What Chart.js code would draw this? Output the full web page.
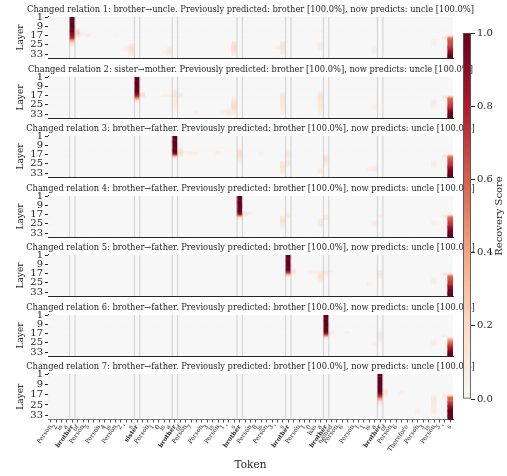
<!DOCTYPE html>
<html><head><meta charset="utf-8">
<script src="https://cdn.jsdelivr.net/npm/chart.js@4.4.0/dist/chart.umd.min.js"></script>
<style>
html,body{margin:0;padding:0;background:#fff;}
#wrap{position:relative;width:507px;height:476px;overflow:hidden;background:#fff;}
canvas{position:absolute;left:0;}
</style></head><body><div id="wrap"></div>
<script>
const tokens = [
 'Person','2','is','a','brother','of','Person','5','.',
 'Person','4','is','Person','2',"'",'s','sister','.',
 'Person','1','0','is','a','brother','of','Person','7','.',
 'Person','3','is','Person','1',"'",'s','brother','.',
 'Person','8','is','Person','3',"'",'s','brother','.',
 'Person','1','0','has','a','brother','named','Person','6','.',
 'Person','1','1','is','a','brother','of','Person','6','.',
 'Therefore',',','Person','3','is','Person','5',"'",'s'
];
const relationTokens = [4,16,23,35,44,51,61];
const layerTickLabels = [1,9,17,25,33];
const nLayers = 36;
const colorbarTicks = [0,0.2,0.4,0.6,0.8,1.0];
const cmapStops = ['#f7f7f7','#fddbc7','#f4a582','#d6604d','#b2182b','#67001f'];
const titles = [
 'Changed relation 1: brother\u2192uncle. Previously predicted: brother [100.0%], now predicts: uncle [100.0%]',
 'Changed relation 2: sister\u2192mother. Previously predicted: brother [100.0%], now predicts: uncle [100.0%]',
 'Changed relation 3: brother\u2192father. Previously predicted: brother [100.0%], now predicts: uncle [100.0%]',
 'Changed relation 4: brother\u2192father. Previously predicted: brother [100.0%], now predicts: uncle [100.0%]',
 'Changed relation 5: brother\u2192father. Previously predicted: brother [100.0%], now predicts: uncle [100.0%]',
 'Changed relation 6: brother\u2192father. Previously predicted: brother [100.0%], now predicts: uncle [100.0%]',
 'Changed relation 7: brother\u2192father. Previously predicted: brother [100.0%], now predicts: uncle [100.0%]'
];
// [token index, first layer, recovery scores for consecutive layers]
const panel1 = [
 [4, 1, [1,1,1,1,1,1,1,1,1,1,1,1,1,0.92,0.9,0.88,0.85,0.8,0.7,0.55,0.4,0.3,0.2,0.12,0.08,0.05]],
 [5, 11, [0.12,0.18,0.22,0.25,0.22,0.18,0.12,0.06]],
 [6, 14, [0.05,0.06,0.05]],
 [7, 15, [0.06,0.08,0.08,0.06]],
 [12, 16, [0.05]],
 [14, 27, [0.05,0.05,0.06,0.05]],
 [15, 24, [0.08,0.12,0.15,0.18,0.18,0.18,0.15,0.15,0.12,0.1,0.08]],
 [21, 30, [0.04,0.05,0.05]],
 [22, 27, [0.06,0.08,0.1,0.12,0.12,0.1,0.08,0.06]],
 [34, 22, [0.08,0.12,0.15,0.18,0.2,0.2,0.2,0.18,0.16,0.14,0.12,0.1,0.08]],
 [42, 26, [0.05,0.05,0.06]],
 [43, 22, [0.08,0.1,0.12,0.15,0.15,0.15,0.15,0.12,0.12,0.1,0.08,0.06]],
 [50, 13, [0.05]],
 [50, 22, [0.05,0.06,0.08,0.08,0.08,0.06,0.06,0.05]],
 [60, 27, [0.05,0.06,0.07,0.07,0.06,0.05]],
 [71, 20, [0.04,0.05,0.06,0.06,0.05,0.04]],
 [73, 17, [0.08,0.12,0.1]],
 [74, 16, [0.08,0.2,0.45,0.55,0.6,0.62,0.63,0.64,0.65,0.68,0.7,0.72,0.75,0.8,0.85,0.9,0.95,1,1,1,1]]
];
const panel2 = [
 [16, 1, [1,1,1,1,1,1,1,1,1,1,1,1,1,0.95,0.9,0.85,0.75,0.6,0.45,0.3,0.15,0.08]],
 [17, 14, [0.1,0.18,0.2,0.15,0.08]],
 [21, 16, [0.05,0.05]],
 [22, 16, [0.06,0.06]],
 [23, 10, [0.05,0.06,0.08,0.1,0.12,0.12,0.12,0.12,0.1,0.1,0.1,0.08,0.08,0.08,0.08,0.06,0.06,0.06,0.05,0.05,0.05]],
 [24, 14, [0.06,0.1,0.1,0.08,0.05]],
 [27, 30, [0.05,0.06,0.06,0.05]],
 [32, 29, [0.05,0.06,0.08,0.08,0.06]],
 [33, 28, [0.06,0.08,0.1,0.1,0.1,0.08,0.06]],
 [34, 18, [0.06,0.08,0.1,0.12,0.15,0.15,0.18,0.2,0.2,0.2,0.18,0.15,0.12,0.1,0.08,0.06]],
 [43, 14, [0.06,0.08,0.1,0.12,0.12,0.12,0.12,0.12,0.12,0.1,0.1,0.1,0.1,0.1,0.08,0.08,0.08,0.06,0.06,0.05]],
 [50, 13, [0.06,0.08,0.1,0.12,0.15,0.15,0.15,0.15,0.12,0.12,0.12,0.1,0.1,0.1,0.1,0.08,0.08,0.08,0.06,0.06,0.06,0.05]],
 [60, 24, [0.04,0.05,0.05,0.05,0.04]],
 [71, 20, [0.05,0.06,0.08,0.08,0.08,0.06,0.06,0.05]],
 [73, 17, [0.08,0.12,0.1]],
 [74, 17, [0.2,0.45,0.55,0.6,0.6,0.62,0.65,0.68,0.7,0.72,0.75,0.8,0.85,0.9,0.95,1,1,1,1,1]]
];
const panel3 = [
 [23, 1, [1,1,1,1,1,1,1,1,1,1,1,1,1,1,0.95,0.85,0.6,0.35,0.15,0.06]],
 [24, 11, [0.08,0.12,0.15,0.18,0.18,0.15,0.1,0.06]],
 [25, 14, [0.05,0.06,0.05]],
 [26, 14, [0.05,0.08,0.06]],
 [27, 15, [0.08,0.06]],
 [31, 14, [0.06,0.08,0.06]],
 [35, 12, [0.08,0.12,0.15,0.18,0.2,0.18,0.15,0.12,0.1,0.08,0.08,0.06,0.05]],
 [39, 15, [0.05,0.06]],
 [43, 23, [0.08,0.1,0.12,0.15,0.15,0.15,0.12,0.12,0.1,0.08,0.06]],
 [44, 13, [0.05,0.08,0.1,0.1,0.12,0.1,0.08,0.06,0.06,0.08,0.1,0.1,0.1,0.08,0.06]],
 [50, 29, [0.06,0.08,0.08,0.08,0.06]],
 [51, 17, [0.08,0.12,0.15,0.18,0.18,0.15,0.12,0.1,0.08,0.06]],
 [59, 28, [0.05,0.06,0.06,0.05]],
 [60, 27, [0.05,0.06,0.08,0.08,0.06]],
 [71, 22, [0.05,0.06,0.08,0.08,0.08,0.06,0.05]],
 [73, 17, [0.1,0.12,0.08]],
 [74, 17, [0.25,0.5,0.55,0.6,0.62,0.65,0.68,0.7,0.72,0.75,0.8,0.85,0.9,0.92,0.95,1,1,1,1,1]]
];
const panel4 = [
 [35, 1, [1,1,1,1,1,1,1,1,1,1,1,1,1,1,0.95,0.85,0.65,0.4,0.2,0.08]],
 [36, 14, [0.1,0.15,0.15,0.1,0.06]],
 [37, 15, [0.05,0.05]],
 [43, 18, [0.08,0.1,0.12,0.15,0.15,0.15,0.12,0.1,0.1,0.08,0.06,0.05]],
 [44, 15, [0.05,0.06,0.08,0.08,0.06]],
 [50, 20, [0.06,0.08,0.1,0.12,0.12,0.1,0.08,0.06]],
 [51, 17, [0.06,0.08,0.1,0.1,0.08]],
 [60, 22, [0.05,0.06,0.08,0.08,0.06,0.05]],
 [61, 17, [0.05,0.06,0.06]],
 [71, 22, [0.05,0.06,0.06,0.05]],
 [73, 17, [0.08,0.1,0.06]],
 [74, 17, [0.2,0.45,0.55,0.6,0.62,0.65,0.68,0.7,0.72,0.75,0.8,0.85,0.9,0.92,0.95,1,1,1,1,1]]
];
const panel5 = [
 [44, 1, [1,1,1,1,1,1,1,1,1,1,1,1,1,0.9,0.8,0.65,0.45,0.25,0.1]],
 [45, 13, [0.08,0.12,0.12,0.08,0.05]],
 [48, 14, [0.05,0.06,0.05]],
 [49, 14, [0.05,0.08,0.05]],
 [50, 14, [0.06,0.1,0.12,0.15,0.18,0.18,0.15,0.12,0.1,0.08,0.06]],
 [51, 14, [0.06,0.1,0.1,0.08]],
 [52, 14, [0.05,0.06]],
 [59, 24, [0.05,0.06,0.06,0.05]],
 [61, 14, [0.06,0.08,0.1,0.1,0.1,0.08,0.06,0.05]],
 [71, 20, [0.05,0.06,0.08,0.08,0.08,0.06,0.05]],
 [73, 16, [0.1,0.12,0.1]],
 [74, 17, [0.2,0.45,0.55,0.6,0.62,0.65,0.68,0.7,0.72,0.75,0.8,0.85,0.9,0.92,0.95,1,1,1,1,1]]
];
const panel6 = [
 [51, 1, [1,1,1,1,1,1,1,1,1,1,1,1,1,1,0.95,0.9,0.75,0.55,0.35,0.2,0.1]],
 [52, 14, [0.06,0.1,0.1,0.06]],
 [55, 15, [0.05,0.05]],
 [60, 24, [0.05,0.06,0.06,0.05]],
 [61, 15, [0.06,0.08,0.1,0.1,0.1,0.08,0.08,0.06,0.05]],
 [71, 22, [0.05,0.06,0.08,0.08,0.06,0.05]],
 [73, 18, [0.06,0.08]],
 [74, 20, [0.15,0.3,0.4,0.5,0.55,0.6,0.65,0.7,0.75,0.8,0.85,0.9,0.95,1,1,1,1]]
];
const panel7 = [
 [61, 1, [1,1,1,1,1,1,1,1,1,1,1,1,1,1,0.95,0.9,0.8,0.7,0.55,0.4,0.3,0.2,0.12,0.06]],
 [62, 12, [0.05,0.08,0.1,0.1,0.08,0.06,0.05]],
 [65, 14, [0.05,0.06,0.05]],
 [68, 28, [0.05,0.06,0.06,0.05]],
 [71, 17, [0.06,0.08,0.1,0.12,0.12,0.12,0.1,0.1,0.1,0.1,0.08,0.08,0.08,0.06,0.06,0.05]],
 [73, 17, [0.08,0.1,0.08]],
 [74, 17, [0.2,0.4,0.55,0.6,0.62,0.65,0.7,0.75,0.8,0.85,0.9,0.95,1,1,1,1,1,1,1,1]]
];
const panels = [panel1,panel2,panel3,panel4,panel5,panel6,panel7];

const FONT = 'DejaVu Serif';
const INK = '#262626';
const tops = [0,60,119,179,238,298,357];

function rgb(h){return [1,3,5].map(i=>parseInt(h.slice(i,i+2),16));}
const stopsRGB = cmapStops.map(rgb);
function colorFor(v){
  v = Math.max(0, Math.min(1, v));
  const p = v*(stopsRGB.length-1);
  const i = Math.min(Math.floor(p), stopsRGB.length-2);
  const t = p - i;
  const a = stopsRGB[i], b = stopsRGB[i+1];
  return 'rgb(' + a.map((c,k)=>Math.round(c+(b[k]-c)*t)).join(',') + ')';
}
function buildMatrix(entries){
  const m = Array.from({length:nLayers}, () => new Array(tokens.length).fill(0));
  entries.forEach(([tok, from, vals]) => vals.forEach((v,k) => { m[from-1+k][tok] = v; }));
  return m;
}

const relLines = {
  id:'relLines',
  afterDatasetsDraw(chart){
    const x = chart.scales.x, ca = chart.chartArea, ctx = chart.ctx;
    const half = (x.getPixelForValue(1) - x.getPixelForValue(0))/2;
    ctx.save();
    ctx.strokeStyle = 'rgba(185,185,185,0.7)';
    ctx.lineWidth = 0.9;
    relationTokens.forEach(i => {
      const c = x.getPixelForValue(i);
      [c-half, c+half].forEach(px => {
        ctx.beginPath(); ctx.moveTo(px, ca.top); ctx.lineTo(px, ca.bottom); ctx.stroke();
      });
    });
    ctx.restore();
  }
};

const wrap = document.getElementById('wrap');
panels.forEach((entries, p) => {
  const last = p === panels.length-1;
  const h = last ? 119 : 66;
  const cv = document.createElement('canvas');
  cv.width = 507; cv.height = h;
  cv.style.top = tops[p] + 'px';
  wrap.appendChild(cv);
  const m = buildMatrix(entries);
  const datasets = m.map((row, r) => ({
    data: tokens.map(() => [r, r+1]),
    backgroundColor: row.map(colorFor),
    borderWidth: 0, grouped: false, barPercentage: 1, categoryPercentage: 1
  }));
  new Chart(cv, {
    type: 'bar',
    data: {labels: tokens, datasets},
    options: {
      responsive: false, animation: false, devicePixelRatio: 1,
      layout: {padding: {left: 0, right: 6, top: 0, bottom: last ? 0 : 3.5}},
      plugins: {
        legend: {display: false}, tooltip: {enabled: false},
        title: {display: true, text: titles[p], fullSize: true,
          font: {family: FONT, size: 8.3, weight: 'normal', lineHeight: 1.2},
          color: INK, padding: {top: 4.5, bottom: 2.5}}
      },
      scales: {
        x: {
          type: 'category', offset: true,
          grid: {display: last, drawOnChartArea: false, offset: false, tickLength: 3, color: INK, lineWidth: 0.8},
          border: {display: true, color: INK, width: 1},
          ticks: {display: last, autoSkip: false, maxRotation: 55, minRotation: 55, padding: 1, color: INK,
            font: c => ({family: FONT, size: 6.2, weight: relationTokens.includes(c.index) ? 'bold' : 'normal'})},
          title: {display: last, text: 'Token', font: {family: FONT, size: 10.5}, color: INK, padding: {top: 0, bottom: 4}},
          afterFit: s => { s.height = last ? 56.5 : 0; }
        },
        y: {
          type: 'linear', reverse: true, min: 0, max: nLayers,
          grid: {drawOnChartArea: false, tickLength: 3, color: INK},
          border: {display: true, color: INK, width: 1},
          afterBuildTicks: s => { s.ticks = layerTickLabels.map(l => ({value: l-0.5})); },
          ticks: {autoSkip: false, padding: 2, color: INK, font: {family: FONT, size: 10},
            callback: v => String(v + 0.5)},
          title: {display: true, text: 'Layer', font: {family: FONT, size: 9}, color: INK, padding: {top: 15, bottom: 0}},
          afterFit: s => { s.width = 48; }
        },
        spacer: {
          type: 'linear', position: 'right', display: true, min: 0, max: 1,
          grid: {display: false}, border: {display: false}, ticks: {display: false},
          afterFit: s => { s.width = 48; }
        }
      }
    },
    plugins: [relLines]
  });
});

// colorbar
const cbTitle = {
  id: 'cbTitle',
  afterDraw(chart){
    const ca = chart.chartArea, ctx = chart.ctx;
    ctx.save();
    ctx.translate(ca.right + 28, (ca.top + ca.bottom)/2);
    ctx.rotate(-Math.PI/2);
    ctx.fillStyle = INK;
    ctx.font = '10px "DejaVu Serif"';
    ctx.textAlign = 'center'; ctx.textBaseline = 'middle';
    ctx.fillText('Recovery Score', 0, 0);
    ctx.restore();
  }
};
const cb = document.createElement('canvas');
cb.width = 67; cb.height = 476;
cb.style.left = '440px'; cb.style.top = '0px'; cb.style.zIndex = 5;
wrap.appendChild(cb);
new Chart(cb, {
  type: 'bar',
  data: {labels: ['score'], datasets: [{
    data: [[colorbarTicks[0], colorbarTicks[colorbarTicks.length-1]]],
    backgroundColor: (ctx) => {
      const ca = ctx.chart.chartArea;
      if (!ca) return cmapStops[0];
      const g = ctx.chart.ctx.createLinearGradient(0, ca.bottom, 0, ca.top);
      cmapStops.forEach((c, i) => g.addColorStop(i/(cmapStops.length-1), c));
      return g;
    },
    borderColor: '#555', borderWidth: 1.2, borderSkipped: false,
    barPercentage: 1, categoryPercentage: 1
  }]},
  options: {
    responsive: false, animation: false, devicePixelRatio: 1,
    layout: {padding: {left: 23, right: 0, top: 33, bottom: 77}},
    plugins: {legend: {display: false}, tooltip: {enabled: false}},
    scales: {
      x: {display: false},
      y: {position: 'right', min: 0, max: 1,
        grid: {drawOnChartArea: false, tickLength: 4, color: INK},
        border: {display: false},
        afterBuildTicks: s => { s.ticks = colorbarTicks.map(v => ({value: v})); },
        ticks: {padding: 2, color: INK, font: {family: FONT, size: 10}, callback: v => Number(v).toFixed(1)},
        afterFit: s => { s.width = 36; }
      }
    }
  },
  plugins: [cbTitle]
});
</script></body></html>
